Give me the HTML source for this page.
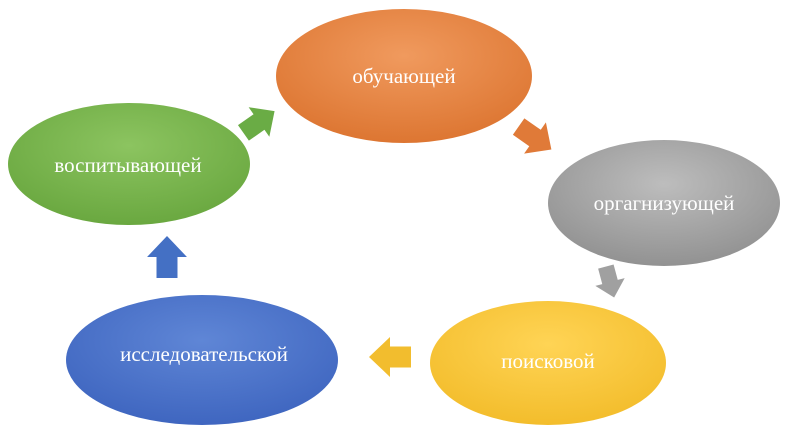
<!DOCTYPE html>
<html><head><meta charset="utf-8"><style>
html,body{margin:0;padding:0;background:#fff;width:800px;height:433px;overflow:hidden}
svg{display:block}
text{font-family:"Liberation Serif",serif;font-size:21px;fill:#fff;text-anchor:middle;dominant-baseline:central}
</style></head><body>
<svg width="800" height="433" viewBox="0 0 800 433">
<defs>
<radialGradient id="o" cx="50%" cy="35%" r="65%"><stop offset="0" stop-color="#f09a5e"/><stop offset="1" stop-color="#dd7632"/></radialGradient>
<radialGradient id="g" cx="50%" cy="35%" r="65%"><stop offset="0" stop-color="#bdbdbd"/><stop offset="1" stop-color="#929292"/></radialGradient>
<radialGradient id="y" cx="50%" cy="35%" r="65%"><stop offset="0" stop-color="#ffd455"/><stop offset="1" stop-color="#f3bd2c"/></radialGradient>
<radialGradient id="b" cx="50%" cy="35%" r="65%"><stop offset="0" stop-color="#5f86d6"/><stop offset="1" stop-color="#3f66c0"/></radialGradient>
<radialGradient id="gr" cx="50%" cy="35%" r="65%"><stop offset="0" stop-color="#8cc460"/><stop offset="1" stop-color="#6aa840"/></radialGradient>
<path id="arr" d="M-20,-10 L0,-10 L0,-19 L20,0 L0,19 L0,10 L-20,10 Z"/>
</defs>
<ellipse cx="404" cy="76" rx="128" ry="67" fill="url(#o)"/>
<ellipse cx="664" cy="203" rx="116" ry="63" fill="url(#g)"/>
<ellipse cx="548" cy="363" rx="118" ry="62" fill="url(#y)"/>
<ellipse cx="202" cy="360" rx="136" ry="65" fill="url(#b)"/>
<ellipse cx="129" cy="164" rx="121" ry="61" fill="url(#gr)"/>
<use href="#arr" fill="#6aac45" transform="translate(259,122) rotate(-35) scale(0.95)"/>
<use href="#arr" fill="#e07a38" transform="translate(535,138) rotate(35) scale(1.0)"/>
<use href="#arr" fill="#a0a0a0" transform="translate(610,282) rotate(75) scale(0.8)"/>
<use href="#arr" fill="#f2bd2e" transform="translate(390,357) rotate(180) scale(1.05)"/>
<use href="#arr" fill="#4470c4" transform="translate(167,257) rotate(-90) scale(1.05)"/>
<text x="404" y="76">обучающей</text>
<text x="664" y="203">оргагнизующей</text>
<text x="548" y="361">поисковой</text>
<text x="204" y="354">исследовательской</text>
<text x="128" y="165">воспитывающей</text>
</svg>
</body></html>
